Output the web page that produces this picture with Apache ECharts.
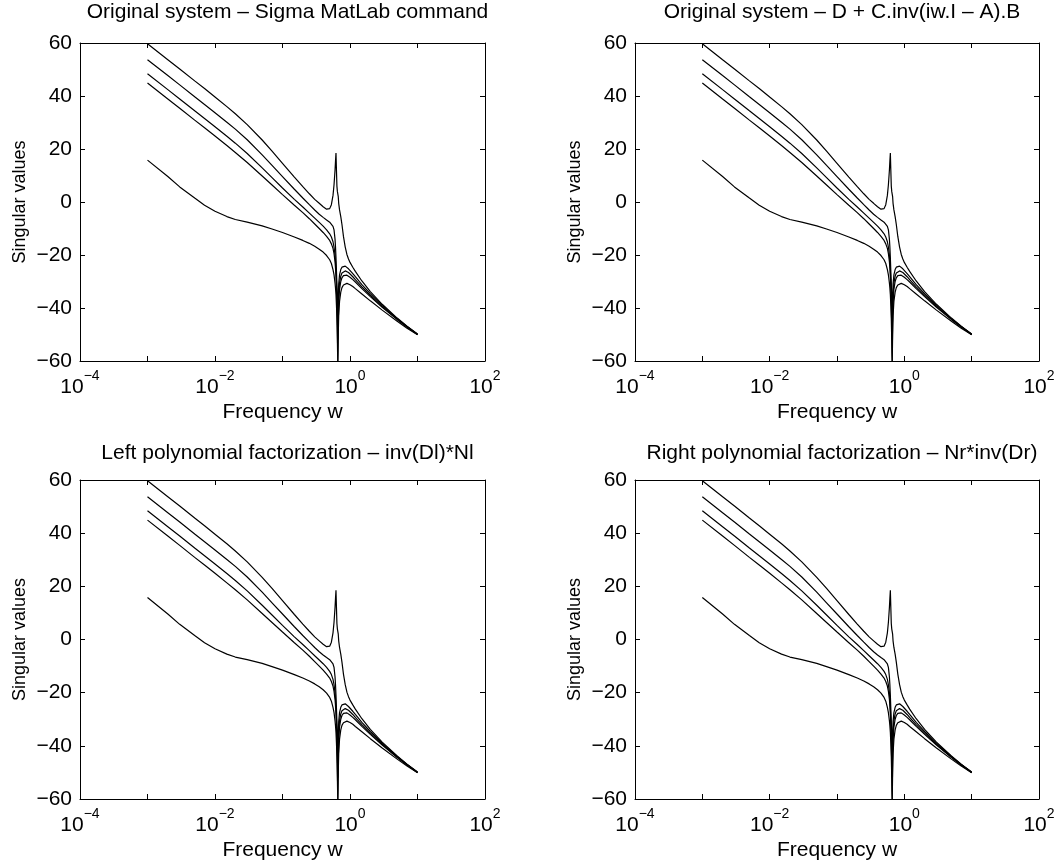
<!DOCTYPE html>
<html><head><meta charset="utf-8">
<script src="https://cdn.jsdelivr.net/npm/echarts@6/dist/echarts.min.js"></script>
<style>html,body{margin:0;padding:0;background:#fff}#c{width:1058px;height:867px}</style>
</head><body><div id="c"></div>
<script>
// Frequencies (rad/s) at which singular values were read
const freq = [0.001,0.002,0.003,0.005,0.007,0.01,0.015,0.02,0.03,0.05,0.07,0.1,0.15,0.2,0.25,0.3,0.35,0.4,0.45,0.5,
  0.53,0.56,0.58,0.6,0.61,0.62,0.63,0.64,0.65,0.655,0.66,0.665,0.67,0.68,0.7,0.73,0.76,0.8,0.85,0.9,0.95,1.0,1.1,1.2,1.5,2,3,5,7,10];
// Singular values (dB), largest to smallest
const sv1 = [59.7,53.7,50.2,45.7,42.8,39.6,36.0,33.3,29.2,23.4,19.2,14.6,9.4,5.8,3.1,1.0,-0.5,-1.8,-2.7,-2.5,
  -1,2.5,6.5,12,15.5,18.5,12,6,4,4,3.8,3.5,2,-0.5,-3,-5.5,-8.5,-13,-17,-19.8,-21.5,-22.8,-24.6,-26.2,-29.8,-33.8,-38.6,-43.8,-46.9,-49.8];
const sv2 = [53.7,47.7,44.2,39.7,36.8,33.7,30.1,27.5,23.5,17.8,13.8,9.6,4.8,1.5,-1.0,-3.0,-4.6,-5.8,-6.8,-7.6,
  -8.2,-9.2,-10.5,-14,-17,-21,-26,-31,-36,-40,-44,-40,-36,-31,-27.5,-25.5,-24.6,-24.2,-24.2,-24.6,-25.2,-25.8,-27,-28.2,-31.2,-34.6,-39,-44,-47,-49.9];
const sv3 = [48.4,42.4,38.9,34.4,31.5,28.4,24.8,22.2,18.3,12.9,9.2,5.3,1.0,-1.9,-4.2,-6.1,-7.7,-9.1,-10.5,-12,
  -13.2,-15,-17,-20,-22.5,-26,-30,-35,-42,-47,-52,-46,-41,-35,-30.5,-28,-26.8,-26.2,-26,-26.2,-26.6,-27.1,-28.2,-29.3,-32,-35.2,-39.4,-44.2,-47.1,-50];
const sv4 = [44.9,38.9,35.4,30.9,28,24.9,21.3,18.7,14.9,9.8,6.4,2.8,-1.2,-4.0,-6.3,-8.3,-10,-11.5,-13,-14.5,
  -15.8,-17.5,-19.5,-22.5,-25,-28,-32,-38,-47,-54,-60,-53,-46,-38,-33,-30,-28.6,-27.8,-27.5,-27.6,-28,-28.4,-29.3,-30.2,-32.7,-35.7,-39.7,-44.4,-47.2,-50];
const sv5 = [15.8,9.6,5.7,1.5,-1.2,-3.5,-5.5,-6.6,-7.6,-9,-10.2,-11.5,-13.2,-14.5,-15.6,-16.7,-17.8,-18.9,-20.2,-21.8,
  -23.2,-25.5,-27.5,-30.5,-32.5,-35,-39,-44,-52,-57,-60,-56,-50,-43,-37.5,-34,-32.3,-31.3,-30.8,-30.7,-30.9,-31.2,-31.9,-32.7,-34.7,-37.3,-40.8,-45,-47.6,-50.1];
const allSV = [sv1, sv2, sv3, sv4, sv5];

const titles = [
  'Original system \u2013 Sigma MatLab command',
  'Original system \u2013 D + C.inv(iw.I \u2013 A).B',
  'Left polynomial factorization \u2013 inv(Dl)*Nl',
  'Right polynomial factorization \u2013 Nr*inv(Dr)'
];
const xLabelName = 'Frequency w';
const yLabelName = 'Singular values';
const yMin = -60, yMax = 60, yStep = 20;
const xMin = 1e-4, xMax = 1e2;

const FONT = 'Liberation Sans, Arial, Helvetica, sans-serif';
const grids = [
  {left: 80, top: 43, width: 405, height: 318},
  {left: 635, top: 43, width: 404, height: 318},
  {left: 80, top: 480, width: 405, height: 319},
  {left: 635, top: 480, width: 404, height: 319}
];
const titleTops = [-3, -3, 438, 438];

const minus = s => String(s).replace(/-/g, '\u2212');
const axisLine = {show: true, onZero: false, lineStyle: {color: '#000', width: 1}};
const tick = {show: true, inside: true, length: 5, lineStyle: {color: '#000', width: 1}};

const xAxis = [], yAxis = [], series = [], title = [];
grids.forEach((g, i) => {
  title.push({text: titles[i], left: g.left + g.width / 2, top: titleTops[i], textAlign: 'center',
    textStyle: {fontFamily: FONT, fontSize: 21, fontWeight: 'normal', color: '#000'}});
  xAxis.push({type: 'log', logBase: 10, min: xMin, max: xMax, splitNumber: 6, gridIndex: i, position: 'bottom',
    axisLine, axisTick: tick, splitLine: {show: false}, minorTick: {show: false},
    axisLabel: {margin: 8, color: '#000', fontFamily: FONT,
      formatter: v => { const e = Math.round(Math.log10(v)); return e % 2 === 0 ? '{b|10}{s|' + minus(e) + '}' : ''; },
      rich: {b: {fontSize: 21, fontFamily: FONT, color: '#000', verticalAlign: 'bottom', lineHeight: 29},
             s: {fontSize: 14, fontFamily: FONT, color: '#000', verticalAlign: 'top', lineHeight: 29}}},
    name: xLabelName, nameLocation: 'middle', nameGap: 41,
    nameTextStyle: {fontFamily: FONT, fontSize: 21, color: '#000'}});
  xAxis.push({type: 'log', logBase: 10, min: xMin, max: xMax, splitNumber: 6, gridIndex: i, position: 'top',
    axisLine, axisTick: tick, axisLabel: {show: false}, splitLine: {show: false}});
  yAxis.push({type: 'value', min: yMin, max: yMax, interval: yStep, gridIndex: i, position: 'left',
    axisLine, axisTick: tick, splitLine: {show: false},
    axisLabel: {margin: 8, color: '#000', fontFamily: FONT, fontSize: 21, formatter: v => minus(v)},
    name: yLabelName, nameLocation: 'middle', nameGap: 51, nameRotate: 90,
    nameTextStyle: {fontFamily: FONT, fontSize: 18, color: '#000'}});
  yAxis.push({type: 'value', min: yMin, max: yMax, interval: yStep, gridIndex: i, position: 'right',
    axisLine, axisTick: tick, splitLine: {show: false}, axisLabel: {show: false}});
  allSV.forEach(sv => {
    series.push({type: 'line', xAxisIndex: 2 * i, yAxisIndex: 2 * i, showSymbol: false, symbol: 'none',
      data: freq.map((f, k) => [f, sv[k]]), lineStyle: {color: '#000', width: 1.2}, silent: true, clip: true});
  });
});

const chart = echarts.init(document.getElementById('c'), null, {renderer: 'canvas'});
chart.setOption({animation: false, backgroundColor: '#fff', title, grid: grids, xAxis, yAxis, series});
</script></body></html>
